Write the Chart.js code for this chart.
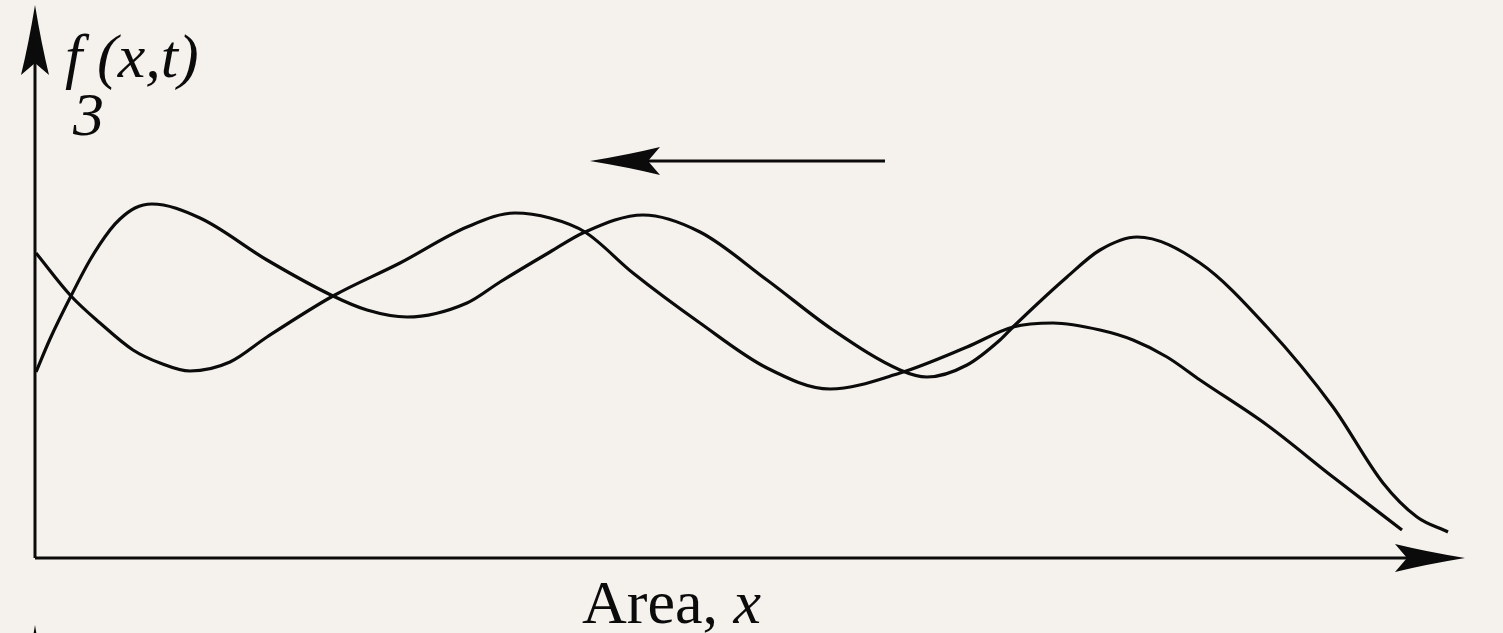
<!DOCTYPE html>
<html>
<head>
<meta charset="utf-8">
<script src="https://cdn.jsdelivr.net/npm/chart.js@4.4.1/dist/chart.umd.min.js"></script>
<style>
  html, body { margin: 0; padding: 0; background: #f5f2ed; }
  #wrap { width: 1503px; height: 633px; position: relative; }
</style>
</head>
<body>
<div id="wrap"><canvas id="waveChart"></canvas></div>
<script>
// Position along the area (x) and height above the axis for each curve
const curve1X = [1, 15, 36, 55, 75, 85, 100, 117, 165, 232, 298, 332, 372, 432, 465, 515, 550, 608, 665, 732, 798, 865, 892, 932, 965, 978, 1032, 1065, 1102, 1165, 1232, 1298, 1348, 1382, 1413];
const curve1Y = [186, 219, 262, 298, 328, 339, 350, 354, 340, 298, 262, 248, 241, 255, 276, 306, 326, 343, 326, 278, 228, 188, 181, 193, 218, 231, 281, 308, 321, 295, 231, 151, 75, 41, 26];

const curve2X = [1, 36, 65, 98, 125, 155, 195, 232, 298, 365, 432, 480, 515, 550, 598, 665, 732, 795, 865, 932, 978, 1018, 1065, 1098, 1132, 1165, 1232, 1298, 1367];
const curve2Y = [305, 262, 235, 208, 195, 187, 196, 221, 262, 295, 331, 345, 340, 326, 285, 235, 190, 169, 185, 211, 231, 235, 228, 218, 201, 178, 133, 81, 28];

// Axis range and arrows (from -> tip), in the same units
const xMax = 1468;
const yMax = 558;
const arrows = [
    { from: [0, 0], to: [0, 553] },       // f axis
    { from: [0, 0], to: [1430, 0] },      // area axis
    { from: [850, 397], to: [555, 397] }, // direction of travel
    { from: [0, -120], to: [0, -67] }     // next panel's axis peeking in
];

const ink = '#0b0b0b';
const serif = '"Liberation Serif", "Times New Roman", serif';

function toPoints(xs, ys) {
    return xs.map((x, i) => ({ x: x, y: ys[i] }));
}

function drawArrow(ctx, x0, y0, x1, y1) {
    const ang = Math.atan2(y1 - y0, x1 - x0);
    const len = 70, half = 14, notch = 58;
    ctx.save();
    ctx.strokeStyle = ink;
    ctx.fillStyle = ink;
    ctx.lineWidth = 3;
    // shaft stops inside the head
    ctx.beginPath();
    ctx.moveTo(x0, y0);
    ctx.lineTo(x1 - Math.cos(ang) * (notch - 2), y1 - Math.sin(ang) * (notch - 2));
    ctx.stroke();
    ctx.translate(x1, y1);
    ctx.rotate(ang);
    ctx.beginPath();
    ctx.moveTo(0, 0);
    ctx.quadraticCurveTo(-len * 0.55, -half * 0.45, -len, -half);
    ctx.lineTo(-notch, 0);
    ctx.lineTo(-len, half);
    ctx.quadraticCurveTo(-len * 0.55, half * 0.45, 0, 0);
    ctx.closePath();
    ctx.fill();
    ctx.restore();
}

const diagramExtras = {
    id: 'diagramExtras',
    afterDatasetsDraw(chart) {
        const ctx = chart.ctx;
        const xs = chart.scales.x, ys = chart.scales.y;
        arrows.forEach(a => {
            drawArrow(ctx,
                xs.getPixelForValue(a.from[0]), ys.getPixelForValue(a.from[1]),
                xs.getPixelForValue(a.to[0]), ys.getPixelForValue(a.to[1]));
        });

        ctx.save();
        ctx.fillStyle = ink;
        ctx.textBaseline = 'alphabetic';
        // y label: f_3(x,t)
        ctx.font = 'italic 62px ' + serif;
        ctx.fillText('f', xs.getPixelForValue(30), ys.getPixelForValue(481));
        ctx.fillText('(x,t)', xs.getPixelForValue(62), ys.getPixelForValue(481));
        ctx.fillText('3', xs.getPixelForValue(38), ys.getPixelForValue(423));
        // x label: Area, x
        ctx.font = '62px ' + serif;
        const lx = xs.getPixelForValue(547), ly = ys.getPixelForValue(-65);
        ctx.fillText('Area, ', lx, ly);
        const w = ctx.measureText('Area, ').width;
        ctx.font = 'italic 62px ' + serif;
        ctx.fillText('x', lx + w, ly);
        ctx.restore();
    }
};

const lineStyle = {
    borderColor: ink,
    borderWidth: 3.2,
    pointRadius: 0,
    fill: false,
    cubicInterpolationMode: 'monotone',
    clip: false
};

new Chart(document.getElementById('waveChart').getContext('2d'), {
    type: 'line',
    data: {
        datasets: [
            Object.assign({ label: 'curve 1', data: toPoints(curve1X, curve1Y) }, lineStyle),
            Object.assign({ label: 'curve 2', data: toPoints(curve2X, curve2Y) }, lineStyle)
        ]
    },
    options: {
        responsive: true,
        maintainAspectRatio: false,
        animation: false,
        layout: { padding: { left: 35, right: 0, top: 0, bottom: 75 } },
        scales: {
            x: { type: 'linear', min: 0, max: xMax, display: false },
            y: { type: 'linear', min: 0, max: yMax, display: false }
        },
        plugins: {
            legend: { display: false },
            tooltip: { enabled: false }
        }
    },
    plugins: [diagramExtras]
});
</script>
</body>
</html>
